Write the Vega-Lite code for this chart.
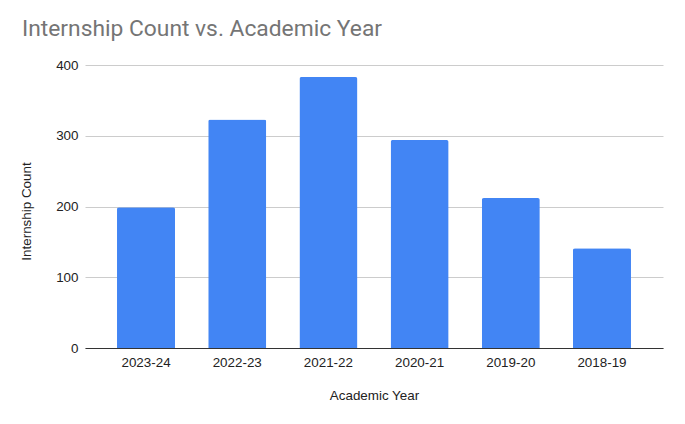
{
  "$schema": "https://vega.github.io/schema/vega-lite/v6.json",
  "autosize": {"type": "none"},
  "width": 578,
  "height": 283,
  "padding": {"left": 85, "top": 65, "right": 22, "bottom": 76},
  "background": "white",
  "config": {"view": {"stroke": null}, "font": "Roboto"},
  "title": {
    "text": "Internship Count vs. Academic Year",
    "anchor": "start",
    "frame": "group",
    "dx": -63,
    "dy": 26,
    "offset": 25,
    "baseline": "alphabetic",
    "fontSize": 22.8,
    "fontWeight": "normal",
    "color": "#757575"
  },
  "data": {
    "values": [
      {"year": "2023-24", "count": 199},
      {"year": "2022-23", "count": 323},
      {"year": "2021-22", "count": 383},
      {"year": "2020-21", "count": 294},
      {"year": "2019-20", "count": 212},
      {"year": "2018-19", "count": 141}
    ]
  },
  "mark": {"type": "bar", "color": "#4285F4", "cornerRadiusTopLeft": 2, "cornerRadiusTopRight": 2},
  "encoding": {
    "x": {
      "field": "year",
      "type": "nominal",
      "sort": null,
      "title": "Academic Year",
      "scale": {"paddingInner": 0.364, "paddingOuter": 0.351},
      "axis": {
        "labelAngle": 0,
        "labelFont": "Arial",
        "labelFontSize": 13.4,
        "labelColor": "#222222",
        "labelPadding": 7,
        "ticks": false,
        "domainColor": "#333333",
        "domainWidth": 1,
        "titleFont": "Arial",
        "titleFontSize": 13.4,
        "titleFontWeight": "normal",
        "titleColor": "#222222",
        "titleBaseline": "alphabetic",
        "titleY": 51
      }
    },
    "y": {
      "field": "count",
      "type": "quantitative",
      "title": "Internship Count",
      "scale": {"domain": [0, 400], "nice": false},
      "axis": {
        "values": [0, 100, 200, 300, 400],
        "labelFont": "Arial",
        "labelFontSize": 13.4,
        "labelColor": "#222222",
        "labelPadding": 7,
        "ticks": false,
        "domain": false,
        "gridColor": "#cccccc",
        "gridWidth": 1,
        "titleFont": "Arial",
        "titleFontSize": 13.4,
        "titleFontWeight": "normal",
        "titleColor": "#222222",
        "titleX": -52,
        "titleY": 146
      }
    }
  }
}
